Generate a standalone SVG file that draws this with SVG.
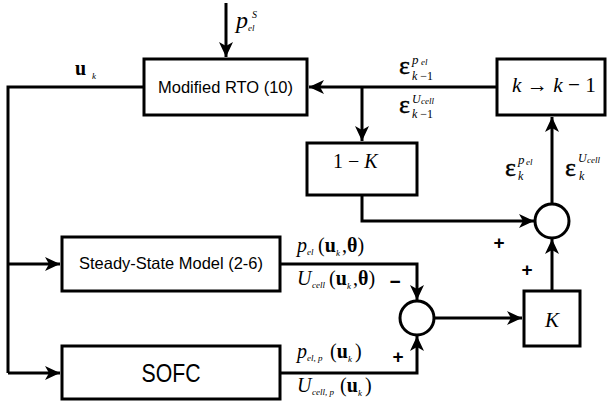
<svg xmlns="http://www.w3.org/2000/svg" width="607" height="410" viewBox="0 0 607 410">
  <style>
    .box { fill: #fff; stroke: #000; stroke-width: 3; }
    .sum { fill: #fff; stroke: #000; stroke-width: 3; }
    .wire { fill: none; stroke: #000; stroke-width: 3; }
    .arr { marker-end: url(#head); }
    .lbl { font-family: "Liberation Sans", Arial, sans-serif; fill: #000; }
    .m { font-family: "Liberation Serif", "Times New Roman", serif; font-style: italic; fill: #000; }
    .r { font-family: "Liberation Serif", "Times New Roman", serif; fill: #000; }
    .b { font-family: "Liberation Serif", "Times New Roman", serif; font-weight: bold; fill: #000; }
    .eps { font-family: "Liberation Serif", "Times New Roman", serif; font-size: 26px; fill: #000; stroke: #000; stroke-width: 0.4; }
    .pm { font-family: "Liberation Sans", Arial, sans-serif; font-size: 19px; font-weight: bold; fill: #000; }
  </style>
  <defs>
    <marker id="head" markerUnits="userSpaceOnUse" markerWidth="16" markerHeight="16" viewBox="0 0 16 16" refX="15" refY="8" orient="auto">
      <path d="M0,1 L15,8 L0,15 L4,8 Z" fill="#000"/>
    </marker>
  </defs>

  <!-- connectors -->
  <g id="connectors">
    <line class="wire arr" x1="226" y1="3" x2="226" y2="57"/>
    <polyline class="wire" points="144,87 8,87 8,373"/>
    <polyline class="wire arr" points="8,373 60,373"/>
    <polyline class="wire arr" points="8,264 60,264"/>
    <line class="wire arr" x1="497" y1="87" x2="309" y2="87"/>
    <line class="wire arr" x1="362" y1="87" x2="362" y2="141"/>
    <polyline class="wire arr" points="362,195 362,221 534,221"/>
    <line class="wire arr" x1="552" y1="204" x2="552" y2="117"/>
    <line class="wire arr" x1="552" y1="291" x2="552" y2="239"/>
    <polyline class="wire arr" points="280,264 417,264 417,300"/>
    <polyline class="wire arr" points="280,373 417,373 417,336"/>
    <line class="wire arr" x1="434" y1="318" x2="522" y2="318"/>
  </g>

  <!-- modified RTO block -->
  <g id="rto">
    <rect class="box" x="144" y="59" width="163" height="56"/>
    <text class="lbl" x="225.5" y="93" font-size="16.5" text-anchor="middle" textLength="135" lengthAdjust="spacingAndGlyphs">Modified RTO (10)</text>
  </g>

  <!-- delay block -->
  <g id="delay">
    <rect class="box" x="497" y="59" width="108" height="56"/>
    <text class="m" x="512" y="92" font-size="22" textLength="84" lengthAdjust="spacingAndGlyphs">k <tspan class="r" font-style="normal">→</tspan> k <tspan font-style="normal">−</tspan> <tspan font-style="normal">1</tspan></text>
  </g>

  <!-- 1 - K gain -->
  <g id="one-minus-k">
    <rect class="box" x="307" y="143" width="110" height="52"/>
    <text class="r" x="333" y="168" font-size="20">1 − <tspan class="m">K</tspan></text>
  </g>

  <!-- K gain -->
  <g id="gain-k">
    <rect class="box" x="524" y="291" width="56" height="55"/>
    <text class="m" x="552" y="327" font-size="21" text-anchor="middle">K</text>
  </g>

  <!-- upper summing junction -->
  <g id="sum-upper">
    <circle class="sum" cx="552" cy="221" r="17"/>
    <text class="pm" x="499" y="249" text-anchor="middle">+</text>
    <text class="pm" x="527" y="276" text-anchor="middle">+</text>
  </g>

  <!-- lower summing junction -->
  <g id="sum-lower">
    <circle class="sum" cx="417" cy="318" r="17"/>
    <text class="pm" x="395" y="288" text-anchor="middle">−</text>
    <text class="pm" x="398" y="363" text-anchor="middle">+</text>
  </g>

  <!-- steady-state model -->
  <g id="model">
    <rect class="box" x="62" y="237" width="218" height="54"/>
    <text class="lbl" x="171" y="269" font-size="16.5" text-anchor="middle" textLength="184" lengthAdjust="spacingAndGlyphs">Steady-State Model (2-6)</text>
  </g>

  <!-- plant -->
  <g id="sofc">
    <rect class="box" x="62" y="346" width="218" height="53"/>
    <text class="lbl" x="171" y="382" font-size="25" text-anchor="middle" textLength="59" lengthAdjust="spacingAndGlyphs">SOFC</text>
  </g>

  <!-- signal labels -->
  <g id="labels">
    <!-- setpoint -->
    <text class="m" x="236" y="28" font-size="24">p</text>
    <text class="m" x="252" y="18" font-size="10">S</text>
    <text class="m" x="248" y="31" font-size="9">el</text>

    <!-- input u_k -->
    <text class="b" x="75" y="75" font-size="20">u</text>
    <text class="m" x="92" y="79" font-size="9">k</text>

    <!-- delayed errors -->
    <text class="eps" x="399" y="74">ε</text>
    <text class="m" x="412" y="64" font-size="13">p</text>
    <text class="m" x="421" y="65" font-size="9">el</text>
    <text class="m" x="412" y="80" font-size="12">k <tspan font-style="normal">−</tspan><tspan font-style="normal">1</tspan></text>

    <text class="eps" x="399" y="113">ε</text>
    <text class="m" x="412" y="103" font-size="12">U</text>
    <text class="m" x="421" y="104" font-size="9">cell</text>
    <text class="m" x="412" y="118" font-size="12">k <tspan font-style="normal">−</tspan><tspan font-style="normal">1</tspan></text>

    <!-- current errors -->
    <text class="eps" x="505" y="176">ε</text>
    <text class="m" x="518" y="164" font-size="13">p</text>
    <text class="m" x="526" y="165" font-size="9">el</text>
    <text class="m" x="518" y="180" font-size="12">k</text>

    <text class="eps" x="565" y="176">ε</text>
    <text class="m" x="578" y="162" font-size="12">U</text>
    <text class="m" x="587" y="163" font-size="9">cell</text>
    <text class="m" x="579" y="180" font-size="12">k</text>

    <!-- model outputs -->
    <text class="m" x="297" y="252" font-size="20">p</text>
    <text class="m" x="307" y="255" font-size="9">el</text>
    <text class="r" x="318" y="252" font-size="20">(<tspan class="b">u</tspan></text>
    <text class="m" x="336" y="256" font-size="9">k</text>
    <text class="r" x="342" y="252" font-size="20">,<tspan class="b">θ</tspan>)</text>

    <text class="m" x="297" y="285" font-size="20">U</text>
    <text class="m" x="312" y="288" font-size="9">cell</text>
    <text class="r" x="329" y="285" font-size="20">(<tspan class="b">u</tspan></text>
    <text class="m" x="347" y="289" font-size="9">k</text>
    <text class="r" x="353" y="285" font-size="20">,<tspan class="b">θ</tspan>)</text>

    <!-- plant outputs -->
    <text class="m" x="297" y="358" font-size="20">p</text>
    <text class="m" x="307" y="361" font-size="9">el<tspan font-style="normal">, </tspan>p</text>
    <text class="r" x="330" y="358" font-size="20">(<tspan class="b">u</tspan></text>
    <text class="m" x="348" y="362" font-size="9">k</text>
    <text class="r" x="355" y="358" font-size="20">)</text>

    <text class="m" x="297" y="392" font-size="20">U</text>
    <text class="m" x="312" y="395" font-size="9">cell<tspan font-style="normal">, </tspan>p</text>
    <text class="r" x="340" y="392" font-size="20">(<tspan class="b">u</tspan></text>
    <text class="m" x="358" y="396" font-size="9">k</text>
    <text class="r" x="365" y="392" font-size="20">)</text>
  </g>
</svg>
